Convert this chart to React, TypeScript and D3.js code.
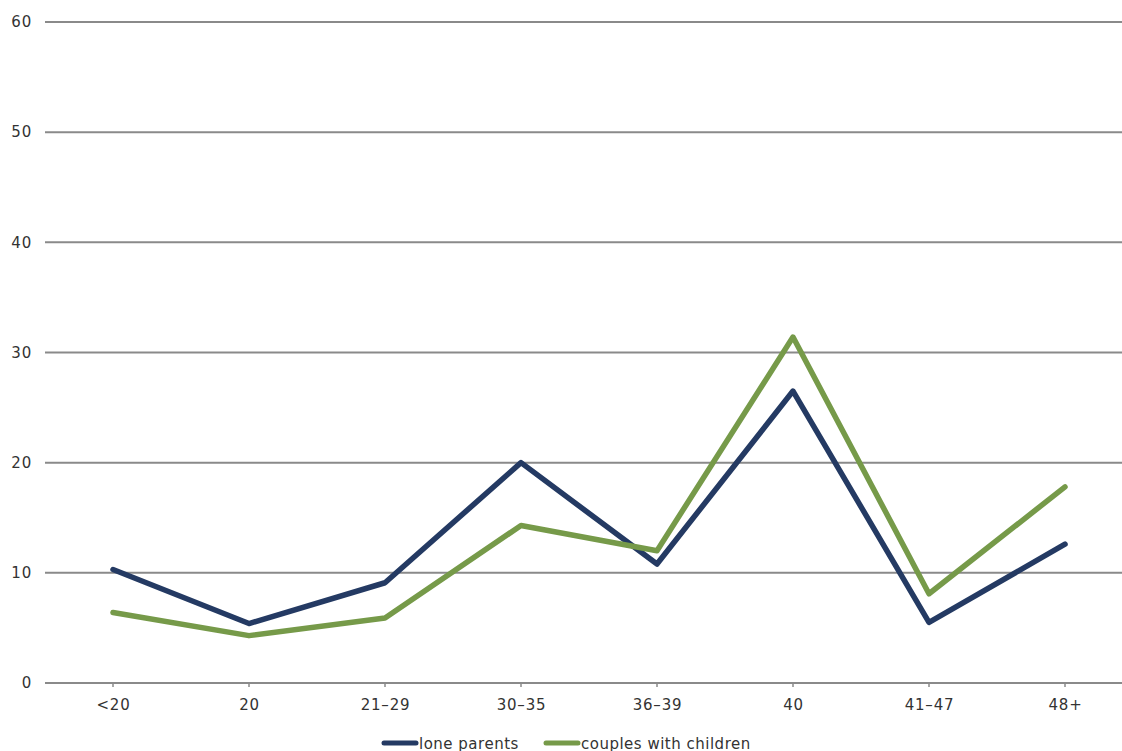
import React from "react";
import * as d3 from "d3";

const categories = ["<20", "20", "21–29", "30–35", "36–39", "40", "41–47", "48+"];
const loneParents = [10.3, 5.4, 9.1, 20.0, 10.8, 26.5, 5.5, 12.6];
const couplesWithChildren = [6.4, 4.3, 5.9, 14.3, 12.0, 31.4, 8.1, 17.8];
const yTicks = [0, 10, 20, 30, 40, 50, 60];

const W = 1122;
const H = 751;
const left = 45;
const step = 136;
const y0 = 683;
const y60 = 22;
const NAVY = "#243a63";
const GREEN = "#769a49";
const FONT = "'DejaVu Sans', Verdana, sans-serif";

export default function App() {
  const x = d3.scalePoint<string>().domain(categories).range([left + step / 2, left + step * 7.5]);
  const y = d3.scaleLinear().domain([0, 60]).range([y0, y60]);
  const line = d3
    .line<number>()
    .x((_, i) => x(categories[i]) as number)
    .y((d) => y(d));

  return (
    <svg width={W} height={H} style={{ position: "absolute", left: 0, top: 0, background: "#fff" }}>
      {yTicks.map((t) => (
        <g key={t}>
          <line x1={left} x2={W} y1={y(t)} y2={y(t)} stroke="#8a8a8a" strokeWidth={2} />
          <text x={32} y={y(t)} dy="0.35em" textAnchor="end" fontFamily={FONT} fontSize={15} letterSpacing={0.8} fill="#333">
            {t}
          </text>
        </g>
      ))}
      {categories.map((c) => (
        <g key={c}>
          <line x1={x(c)} x2={x(c)} y1={y0} y2={y0 + 4} stroke="#8a8a8a" strokeWidth={1.5} />
          <text x={(x(c) as number) + 0.5} y={y0 + 27} textAnchor="middle" fontFamily={FONT} fontSize={15} letterSpacing={0.8} fill="#333">
            {c}
          </text>
        </g>
      ))}
      <path d={line(loneParents) || ""} fill="none" stroke={NAVY} strokeWidth={5.5} strokeLinejoin="round" strokeLinecap="round" />
      <path d={line(couplesWithChildren) || ""} fill="none" stroke={GREEN} strokeWidth={5.5} strokeLinejoin="round" strokeLinecap="round" />
      <g>
        <line x1={384} x2={416} y1={743} y2={743} stroke={NAVY} strokeWidth={5} strokeLinecap="round" />
        <text x={419} y={749} fontFamily={FONT} fontSize={15} letterSpacing={0.5} fill="#333">lone parents</text>
        <line x1={546} x2={578} y1={743} y2={743} stroke={GREEN} strokeWidth={5} strokeLinecap="round" />
        <text x={581} y={749} fontFamily={FONT} fontSize={15} letterSpacing={0.5} fill="#333">couples with children</text>
      </g>
    </svg>
  );
}
